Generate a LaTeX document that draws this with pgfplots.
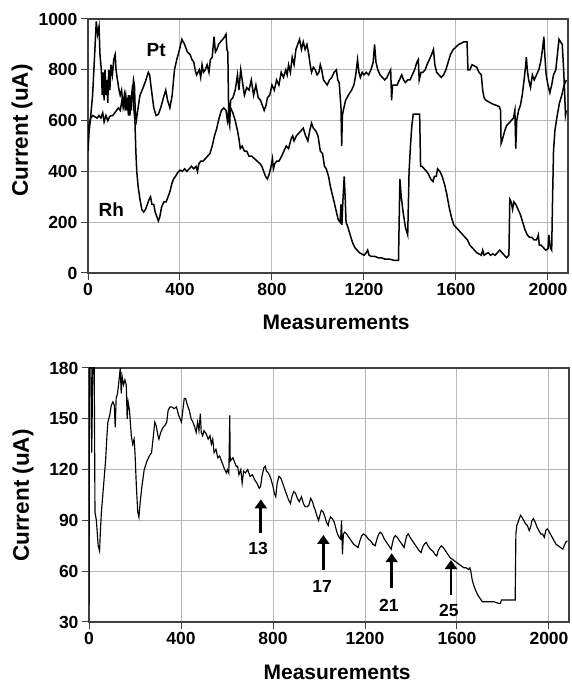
\documentclass[border=0pt]{standalone}
\usepackage{fontspec}
\setmainfont{Liberation Sans}
\usepackage{pgfplots}
\pgfplotsset{compat=1.18}
\usetikzlibrary{arrows.meta}
\pgfplotsset{
  myax/.style={
    scale only axis, width=480pt, height=254pt, anchor=south west,
    xmin=0, xmax=2087, xtick={0,400,800,1200,1600,2000},
    grid=major, major grid style={gray!55, line width=1pt},
    axis line style={black!75, line width=1.3pt},
    tick pos=left, tick align=outside, major tick length=7pt,
    tick style={black!75, line width=1pt},
    /pgf/number format/assume math mode=true,
    /pgf/number format/1000 sep={},
    ticklabel style={font=\fontsize{17.5}{17.5}\selectfont\bfseries},
    xlabel={Measurements}, ylabel={Current (uA)},
    xlabel style={font=\fontsize{21}{21}\selectfont\bfseries, at={(axis description cs:0.517,0)}, anchor=base, yshift=-57pt},
    ylabel style={font=\fontsize{22.5}{22.5}\selectfont\bfseries},
  }
}
\begin{document}
\begin{tikzpicture}
\path[use as bounding box] (0,0) rectangle (572pt,682pt);
% ---------- top ----------
\begin{axis}[myax, at={(88pt,409pt)}, ymin=0, ymax=1000, ytick={0,200,400,600,800,1000},
  ylabel style={at={(axis description cs:-0.1375,0.561)}, anchor=center}]
\addplot[black, line width=1.5pt] coordinates {
(0,480)(5,560)(10,600)(20,700)(30,880)(36,990)(42,940)(48,970)(52,860)(58,800)(62,700)(66,790)(70,680)(74,800)(78,700)(82,760)(86,670)(90,800)(95,720)(100,820)(106,780)(112,840)(118,860)(122,800)(128,760)(135,720)(140,700)(146,720)(152,660)(158,700)(164,640)(170,690)(176,620)(182,700)(188,640)(194,720)(198,760)(202,740)(206,620)(210,600)(216,640)(226,700)(240,730)(252,760)(262,790)(268,780)(276,720)(286,650)(296,620)(306,625)(316,650)(328,690)(338,720)(346,680)(356,650)(366,700)(376,800)(386,840)(398,880)(408,920)(420,900)(432,870)(444,860)(452,840)(460,830)(466,800)(472,780)(478,790)(484,800)(490,770)(496,820)(502,790)(510,800)(518,820)(526,790)(532,840)(540,850)(548,930)(554,870)(560,880)(568,900)(576,910)(586,920)(594,930)(600,940)(604,880)(608,870)(612,600)(616,580)(620,680)(630,690)(640,720)(650,780)(656,720)(664,800)(672,750)(680,700)(690,730)(700,720)(710,760)(720,700)(730,740)(740,690)(750,680)(758,660)(766,640)(774,660)(780,690)(790,700)(800,740)(810,720)(820,760)(830,740)(840,790)(850,770)(860,800)(866,780)(872,820)(880,790)(888,850)(896,820)(904,880)(912,900)(920,920)(928,880)(936,910)(944,880)(952,900)(960,860)(966,820)(972,790)(980,810)(988,800)(996,780)(1004,790)(1010,820)(1016,800)(1024,760)(1032,750)(1040,740)(1050,760)(1060,770)(1070,790)(1080,800)(1086,760)(1092,750)(1096,700)(1100,650)(1103,500)(1106,620)(1110,640)(1120,680)(1132,700)(1146,720)(1156,740)(1164,780)(1172,840)(1178,790)(1184,770)(1192,790)(1200,780)(1210,790)(1220,780)(1230,800)(1240,830)(1246,900)(1252,830)(1260,800)(1270,780)(1280,770)(1290,760)(1300,770)(1310,790)(1316,800)(1320,680)(1324,740)(1334,740)(1344,740)(1354,760)(1364,780)(1372,760)(1380,750)(1390,760)(1400,760)(1410,780)(1420,800)(1430,830)(1436,840)(1440,760)(1448,790)(1456,790)(1466,800)(1474,820)(1484,840)(1494,860)(1502,880)(1508,820)(1516,790)(1526,780)(1536,770)(1546,780)(1556,800)(1566,830)(1576,860)(1588,880)(1600,890)(1612,900)(1624,905)(1634,910)(1648,910)(1652,800)(1660,800)(1670,820)(1680,815)(1690,810)(1700,790)(1710,780)(1716,720)(1722,690)(1730,680)(1740,675)(1750,670)(1760,665)(1775,660)(1788,655)(1794,640)(1796,510)(1800,520)(1806,540)(1812,560)(1820,580)(1830,590)(1840,600)(1850,610)(1856,640)(1860,490)(1864,600)(1872,640)(1880,660)(1888,700)(1896,760)(1902,810)(1906,850)(1910,800)(1916,760)(1924,730)(1932,780)(1940,760)(1950,780)(1960,800)(1968,830)(1976,880)(1982,930)(1986,860)(1992,780)(2000,740)(2008,710)(2016,740)(2024,780)(2034,800)(2042,870)(2048,920)(2054,910)(2062,900)(2068,800)(2072,720)(2076,620)(2080,640)
};
\addplot[black, line width=1.5pt] coordinates {
(0,560)(6,590)(12,610)(20,620)(30,615)(40,610)(48,620)(56,610)(64,630)(70,595)(78,620)(86,600)(94,615)(100,620)(108,620)(116,630)(124,640)(132,650)(140,640)(148,680)(156,650)(164,700)(170,640)(176,700)(182,620)(188,680)(194,740)(200,640)(204,600)(208,480)(212,400)(218,340)(226,290)(234,250)(242,240)(250,250)(258,270)(266,290)(272,300)(278,270)(286,270)(292,240)(300,220)(306,205)(312,220)(320,260)(330,280)(340,280)(348,300)(356,320)(364,350)(372,370)(380,380)(390,395)(400,405)(410,400)(420,410)(430,400)(440,410)(450,420)(460,410)(470,420)(476,400)(482,430)(490,440)(500,440)(510,450)(520,460)(530,470)(540,500)(550,540)(560,570)(570,610)(580,640)(590,650)(600,640)(606,600)(612,640)(620,650)(630,630)(640,600)(650,560)(656,530)(662,490)(670,500)(680,480)(690,480)(700,460)(712,460)(724,450)(736,440)(748,430)(756,420)(764,400)(772,380)(780,370)(788,390)(796,420)(802,450)(806,410)(812,430)(820,440)(830,440)(842,460)(852,480)(862,500)(872,490)(884,530)(890,540)(896,520)(906,540)(916,550)(926,560)(936,570)(946,540)(956,520)(964,560)(972,590)(980,570)(990,560)(1000,540)(1010,480)(1020,470)(1028,420)(1036,410)(1046,380)(1054,340)(1062,310)(1070,280)(1080,240)(1088,210)(1096,200)(1100,270)(1104,190)(1108,280)(1114,380)(1118,300)(1122,200)(1130,180)(1140,150)(1150,120)(1160,100)(1170,90)(1180,80)(1190,75)(1200,70)(1210,80)(1216,90)(1222,70)(1232,65)(1248,65)(1262,60)(1276,60)(1290,55)(1310,55)(1330,50)(1350,50)(1356,370)(1362,300)(1370,240)(1380,180)(1390,150)(1396,400)(1402,500)(1408,580)(1414,625)(1430,625)(1442,625)(1446,420)(1452,420)(1462,410)(1472,400)(1480,390)(1490,370)(1500,360)(1506,380)(1514,380)(1520,410)(1530,400)(1540,380)(1550,350)(1560,310)(1570,260)(1580,220)(1590,190)(1600,180)(1610,170)(1620,160)(1630,150)(1640,140)(1650,130)(1660,110)(1670,100)(1680,90)(1690,80)(1700,75)(1710,70)(1716,90)(1722,70)(1730,75)(1740,80)(1750,70)(1760,75)(1770,70)(1780,80)(1790,90)(1800,80)(1810,70)(1820,60)(1830,70)(1834,290)(1840,280)(1846,250)(1852,280)(1860,270)(1870,250)(1880,230)(1890,200)(1900,170)(1910,150)(1920,140)(1930,140)(1940,130)(1950,130)(1958,150)(1962,110)(1970,110)(1980,100)(1990,90)(2000,95)(2004,150)(2010,100)(2016,90)(2020,300)(2024,480)(2030,560)(2040,620)(2050,670)(2060,700)(2070,740)(2080,760)
};
\node[font=\fontsize{19}{19}\selectfont\bfseries] at (axis cs:296,879) {Pt};
\node[font=\fontsize{19}{19}\selectfont\bfseries] at (axis cs:101,250) {Rh};
\end{axis}
% ---------- bottom ----------
\begin{axis}[myax, at={(89pt,60pt)}, ymin=30, ymax=180, ytick={30,60,90,120,150,180},
  ylabel style={at={(axis description cs:-0.1375,0.498)}, anchor=center}]
\addplot[black, line width=1.15pt] coordinates {
(0,40)(3,200)(8,200)(12,130)(18,200)(22,200)(26,95)(32,90)(40,75)(46,72)(50,85)(54,95)(60,105)(66,115)(72,125)(78,140)(82,148)(90,152)(97,158)(104,160)(110,158)(114,145)(118,162)(124,165)(130,172)(136,180)(140,165)(144,175)(150,170)(156,173)(162,170)(166,150)(170,160)(176,155)(184,140)(190,135)(196,138)(200,130)(206,110)(212,95)(217,92)(222,100)(230,110)(240,120)(252,125)(262,128)(272,130)(280,140)(286,148)(292,146)(300,140)(304,138)(312,142)(322,145)(330,146)(338,148)(344,155)(352,157)(360,157)(370,156)(380,157)(390,152)(396,150)(402,148)(408,155)(414,162)(420,162)(428,158)(436,155)(444,150)(452,148)(460,145)(466,142)(472,148)(478,143)(484,153)(488,142)(494,140)(500,143)(510,141)(518,138)(526,140)(532,135)(538,138)(544,130)(552,132)(560,127)(568,128)(576,125)(582,123)(590,120)(598,118)(602,120)(608,118)(612,152)(614,125)(620,126)(626,127)(634,124)(640,122)(646,122)(652,117)(660,120)(666,112)(672,119)(680,118)(690,120)(700,116)(710,117)(720,114)(730,112)(740,109)(746,110)(752,116)(760,121)(766,122)(772,119)(780,118)(790,115)(800,110)(806,106)(812,104)(818,112)(826,116)(834,115)(842,112)(852,108)(860,105)(868,102)(876,100)(882,104)(890,107)(898,106)(906,103)(914,101)(924,104)(932,100)(940,98)(948,98)(956,99)(964,103)(972,101)(978,98)(984,96)(990,93)(998,90)(1004,93)(1010,96)(1018,95)(1026,92)(1032,89)(1040,87)(1044,90)(1050,92)(1058,91)(1066,89)(1074,85)(1080,82)(1088,80)(1094,79)(1098,90)(1102,70)(1106,82)(1112,83)(1120,82)(1130,80)(1140,78)(1150,76)(1160,75)(1170,74)(1178,78)(1186,81)(1194,82)(1204,81)(1214,79)(1224,78)(1234,76)(1244,75)(1252,79)(1260,82)(1266,83)(1274,82)(1284,79)(1294,77)(1304,75)(1314,73)(1320,77)(1326,80)(1332,81)(1340,80)(1350,78)(1360,76)(1370,74)(1376,78)(1382,81)(1388,82)(1396,80)(1406,78)(1416,76)(1426,74)(1436,72)(1444,71)(1450,74)(1458,76)(1466,77)(1474,75)(1484,73)(1494,72)(1504,70)(1512,69)(1518,72)(1526,74)(1532,75)(1540,74)(1550,72)(1560,70)(1570,68)(1580,67)(1590,66)(1600,65)(1610,64)(1620,63)(1630,62)(1640,62)(1650,61)(1656,62)(1660,60)(1666,55)(1672,52)(1680,49)(1690,46)(1700,44)(1710,42)(1720,42)(1740,42)(1760,42)(1780,41)(1788,41)(1794,43)(1810,43)(1830,43)(1850,43)(1853,43)(1856,82)(1860,87)(1868,90)(1876,93)(1882,92)(1890,90)(1898,88)(1906,87)(1914,84)(1920,86)(1926,90)(1932,91)(1940,89)(1948,86)(1956,84)(1964,82)(1972,82)(1980,80)(1986,84)(1992,85)(1998,84)(2006,82)(2014,80)(2022,78)(2030,76)(2040,75)(2050,74)(2060,73)(2066,75)(2072,77)(2080,78)
};
\foreach \xa/\ya/\yb/\xl/\yl/\t in {747/82.7/102.4/735/73.3/13, 1019/61/81.4/1014/51/17, 1316/50/70.6/1304/40/21, 1574/46/66.6/1565/37/25}{
  \edef\tmp{\noexpand\draw[black, line width=2.8pt, -{Triangle[width=12pt,length=9pt]}] (axis cs:\xa,\ya) -- (axis cs:\xa,\yb);
  \noexpand\node[font=\noexpand\fontsize{17.5}{17.5}\noexpand\selectfont\noexpand\bfseries] at (axis cs:\xl,\yl) {\t};}
  \tmp
}
\end{axis}
\end{tikzpicture}
\end{document}
